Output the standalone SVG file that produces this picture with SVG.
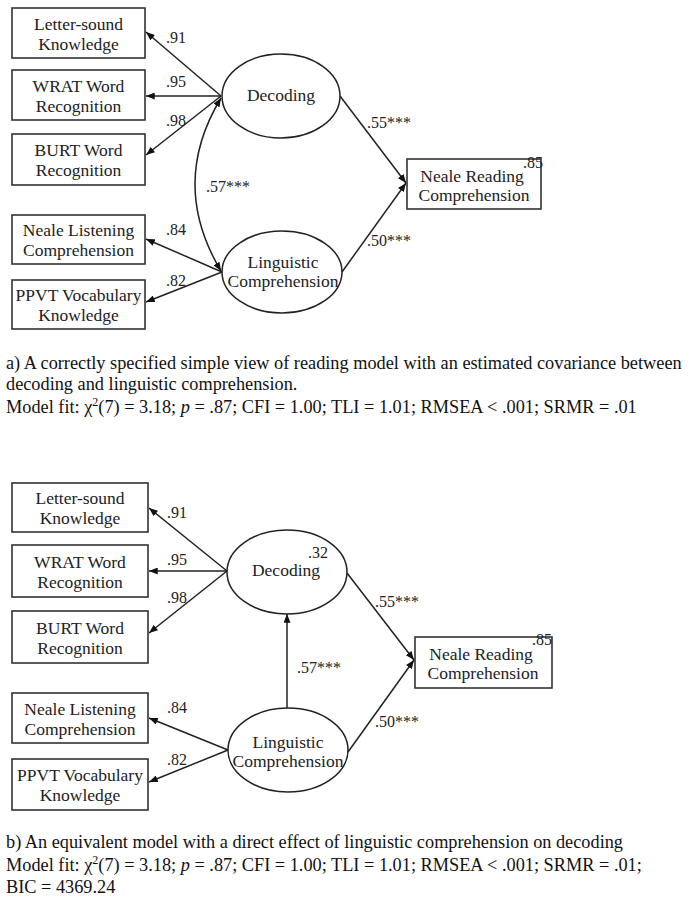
<svg xmlns="http://www.w3.org/2000/svg" width="695" height="901" viewBox="0 0 695 901">
<style>
.box{fill:#fff;stroke:#333;stroke-width:1.6}
.ell{fill:#fff;stroke:#222;stroke-width:1.5}
.t{font-family:"Liberation Serif","Times New Roman",serif;fill:#222}
.node{font-size:17.5px;text-anchor:middle}
.lbl{font-size:16px}
.cap{font-size:18.3px;fill:#111}
.edge{stroke:#222;stroke-width:1.5;fill:none;marker-end:url(#ah)}
.both{marker-start:url(#ah)}
</style>
<defs>
<marker id="ah" viewBox="0 0 10 8" refX="10" refY="4" markerWidth="9" markerHeight="7" markerUnits="userSpaceOnUse" orient="auto-start-reverse">
<path d="M0,0 L10,4 L0,8 z" fill="#111"/>
</marker>
</defs>
<rect width="695" height="901" fill="#fff"/>

<!-- Diagram a -->
<g id="a-letter"><rect class="box" x="12" y="8" width="133" height="50"/><text class="t node" x="78.5" y="29.5">Letter-sound</text><text class="t node" x="78.5" y="49.5">Knowledge</text></g>
<g id="a-wrat"><rect class="box" x="12" y="70" width="133" height="50"/><text class="t node" x="78.5" y="91.5">WRAT Word</text><text class="t node" x="78.5" y="111.5">Recognition</text></g>
<g id="a-burt"><rect class="box" x="12" y="134" width="133" height="51"/><text class="t node" x="78.5" y="156">BURT Word</text><text class="t node" x="78.5" y="176">Recognition</text></g>
<g id="a-nlc"><rect class="box" x="12" y="215" width="133" height="49"/><text class="t node" x="78.5" y="236">Neale Listening</text><text class="t node" x="78.5" y="256">Comprehension</text></g>
<g id="a-ppvt"><rect class="box" x="12" y="280" width="133" height="49"/><text class="t node" x="78.5" y="301">PPVT Vocabulary</text><text class="t node" x="78.5" y="321">Knowledge</text></g>
<g id="a-decoding"><ellipse class="ell" cx="281" cy="96" rx="59" ry="42"/><text class="t node" x="281" y="101">Decoding</text></g>
<g id="a-ling"><ellipse class="ell" cx="282" cy="272" rx="60" ry="41"/><text class="t node" x="283" y="268">Linguistic</text><text class="t node" x="283" y="287">Comprehension</text></g>
<g id="a-nrc"><rect class="box" x="407" y="159" width="134" height="50"/><text class="t node" x="472" y="182">Neale Reading</text><text class="t node" x="474" y="201">Comprehension</text><text class="t lbl" x="523" y="168">.85</text></g>

<g id="a-connectors">
<path class="edge" d="M221,96 L146,32"/>
<path class="edge" d="M221,96 L146,96"/>
<path class="edge" d="M221,96 L146,155"/>
<path class="edge" d="M222,272 L146,239"/>
<path class="edge" d="M222,272 L146,302"/>
<path class="edge both" d="M221,98 Q169,184 221,271"/>
<path class="edge" d="M340,96 L406,183"/>
<path class="edge" d="M342,272 L406,183"/>
<text class="t lbl" x="166" y="43">.91</text>
<text class="t lbl" x="166" y="87">.95</text>
<text class="t lbl" x="166" y="126">.98</text>
<text class="t lbl" x="166" y="235">.84</text>
<text class="t lbl" x="166" y="286">.82</text>
<text class="t lbl" x="206" y="192">.57***</text>
<text class="t lbl" x="367" y="128">.55***</text>
<text class="t lbl" x="367" y="246">.50***</text>
</g>

<text class="t cap" x="6" y="369">a) A correctly specified simple view of reading model with an estimated covariance between</text>
<text class="t cap" x="6" y="390">decoding and linguistic comprehension.</text>
<text class="t cap" x="6" y="413">Model fit: χ<tspan dy="-7" font-size="12">2</tspan><tspan dy="7">(7) = 3.18; </tspan><tspan font-style="italic">p</tspan> = .87; CFI = 1.00; TLI = 1.01; RMSEA &lt; .001; SRMR = .01</text>

<!-- Diagram b -->
<g id="b-letter"><rect class="box" x="12" y="483" width="136" height="49"/><text class="t node" x="80" y="504">Letter-sound</text><text class="t node" x="80" y="524">Knowledge</text></g>
<g id="b-wrat"><rect class="box" x="12" y="545" width="136" height="52"/><text class="t node" x="80" y="567.5">WRAT Word</text><text class="t node" x="80" y="587.5">Recognition</text></g>
<g id="b-burt"><rect class="box" x="12" y="611" width="136" height="52"/><text class="t node" x="80" y="633.5">BURT Word</text><text class="t node" x="80" y="653.5">Recognition</text></g>
<g id="b-nlc"><rect class="box" x="12" y="693" width="136" height="50"/><text class="t node" x="80" y="714.5">Neale Listening</text><text class="t node" x="80" y="734.5">Comprehension</text></g>
<g id="b-ppvt"><rect class="box" x="12" y="759" width="136" height="51"/><text class="t node" x="80" y="781">PPVT Vocabulary</text><text class="t node" x="80" y="801">Knowledge</text></g>
<g id="b-decoding"><ellipse class="ell" cx="287" cy="572" rx="60" ry="42"/><text class="t node" x="286" y="576">Decoding</text><text class="t lbl" x="308" y="558">.32</text></g>
<g id="b-ling"><ellipse class="ell" cx="288" cy="750" rx="60" ry="42"/><text class="t node" x="288" y="748">Linguistic</text><text class="t node" x="288" y="767">Comprehension</text></g>
<g id="b-nrc"><rect class="box" x="415" y="637" width="137" height="51"/><text class="t node" x="481" y="660">Neale Reading</text><text class="t node" x="483" y="679">Comprehension</text><text class="t lbl" x="532" y="645">.85</text></g>

<g id="b-connectors">
<path class="edge" d="M227,571 L149,508"/>
<path class="edge" d="M227,571 L149,571"/>
<path class="edge" d="M227,571 L149,633"/>
<path class="edge" d="M228,750 L149,718"/>
<path class="edge" d="M228,750 L149,782"/>
<path class="edge" d="M287,708 L287,614"/>
<path class="edge" d="M347,573 L414,660"/>
<path class="edge" d="M348,752 L414,660"/>
<text class="t lbl" x="167" y="518">.91</text>
<text class="t lbl" x="167" y="565">.95</text>
<text class="t lbl" x="167" y="603">.98</text>
<text class="t lbl" x="167" y="713">.84</text>
<text class="t lbl" x="167" y="765">.82</text>
<text class="t lbl" x="297" y="673">.57***</text>
<text class="t lbl" x="375" y="607">.55***</text>
<text class="t lbl" x="375" y="727">.50***</text>
</g>

<text class="t cap" x="6" y="848">b) An equivalent model with a direct effect of linguistic comprehension on decoding</text>
<text class="t cap" x="6" y="871">Model fit: χ<tspan dy="-7" font-size="12">2</tspan><tspan dy="7">(7) = 3.18; </tspan><tspan font-style="italic">p</tspan> = .87; CFI = 1.00; TLI = 1.01; RMSEA &lt; .001; SRMR = .01;</text>
<text class="t cap" x="6" y="893">BIC = 4369.24</text>
</svg>
